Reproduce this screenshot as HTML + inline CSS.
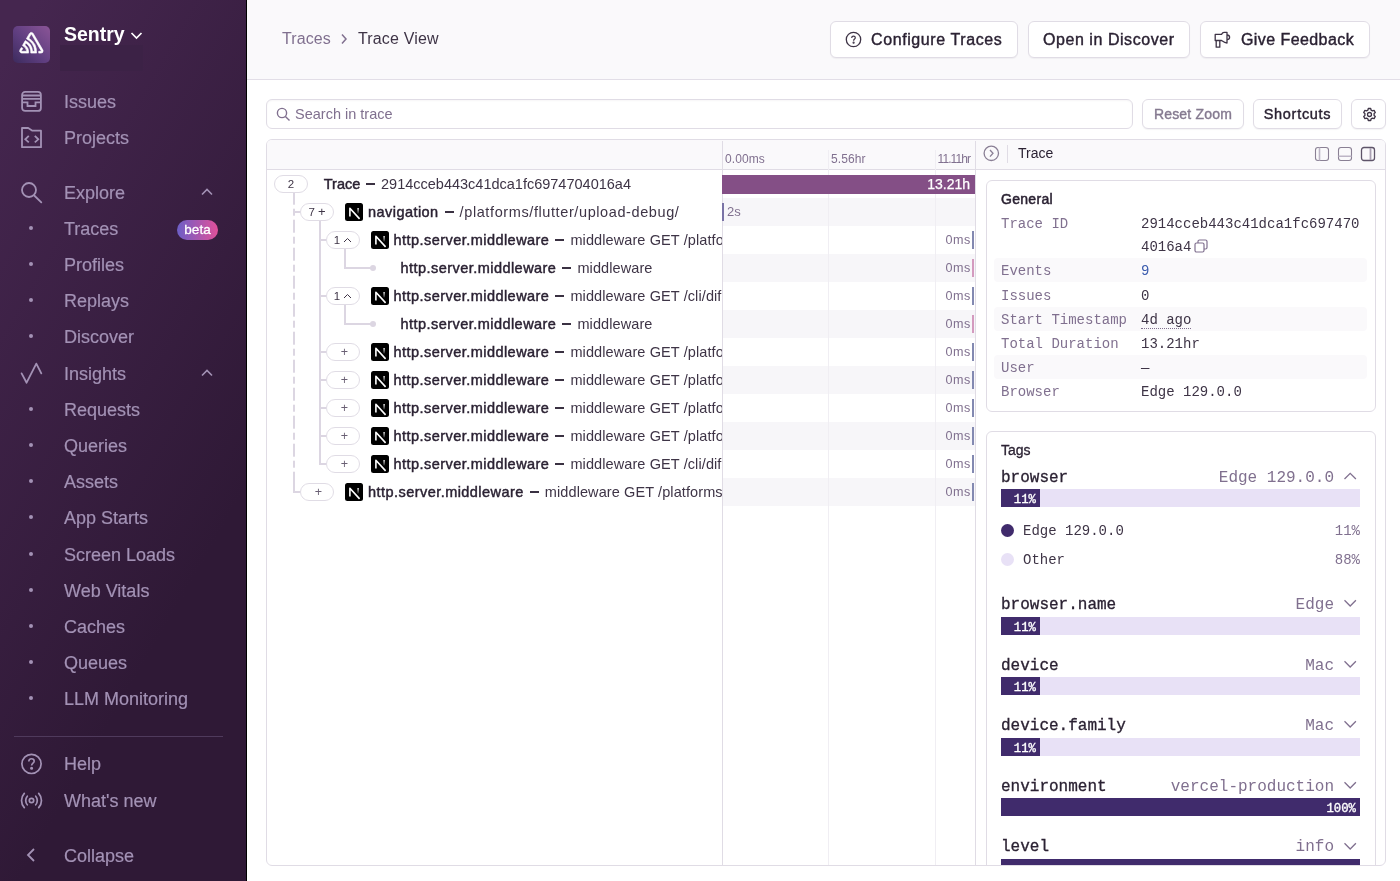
<!DOCTYPE html>
<html><head><meta charset="utf-8"><style>
*{box-sizing:border-box;margin:0;padding:0}
html,body{width:1400px;height:881px;overflow:hidden;background:#fff;}
#root{position:absolute;left:0;top:0;width:1400px;height:881px;will-change:transform;font-family:"Liberation Sans",sans-serif;color:#2b2233}
.a{position:absolute}
.t{position:absolute;white-space:nowrap}
.med{-webkit-text-stroke:0.4px currentColor}
#sb{position:absolute;left:0;top:0;width:247px;height:881px;background:linear-gradient(300deg,#2f1936 30%,#45264f 95%);border-right:1px solid #000}
.logo{position:absolute;left:13px;top:26px;width:37px;height:37px;border-radius:5px;background:linear-gradient(225deg,#8b5597 0%,#5f3e80 55%,#3c2b5d 100%)}
.nav{position:absolute;left:64px;font-size:18px;color:#a392b5;line-height:20px;white-space:nowrap;-webkit-text-stroke:0.2px #a392b5}
.dot{position:absolute;left:29px;width:4px;height:4px;border-radius:2px;background:#a392b5}
#hdr{position:absolute;left:247px;top:0;width:1153px;height:80px;background:#faf9fb;border-bottom:1px solid #e2dee7}
.btn{position:absolute;height:37px;border:1px solid #e0dce5;border-radius:6px;background:#fff;font-size:16px;color:#2b2233;line-height:35px;white-space:nowrap;box-shadow:0 1px 1px rgba(43,34,51,.05)}
.sbtn{position:absolute;top:99px;height:30px;border:1px solid #e0dce5;border-radius:6px;background:#fff;font-size:14px;color:#2b2233;line-height:28px;white-space:nowrap;box-shadow:0 1px 1px rgba(43,34,51,.05)}
#tc{position:absolute;left:266px;top:139px;width:1120px;height:727px;border:1px solid #e0dce5;border-radius:6px;overflow:hidden;background:#fff}
.pill{position:absolute;height:18px;border:1px solid #e0dce5;border-radius:9px;background:#fff;font-size:11.5px;color:#3e3446;text-align:center;line-height:16px;white-space:nowrap}
.tr{position:absolute;font-size:14.5px;color:#3e3446;line-height:18px;white-space:nowrap}
.trb{position:absolute;font-size:14.5px;color:#2b2233;line-height:18px;white-space:nowrap;-webkit-text-stroke:0.45px #2b2233}
.card{position:absolute;border:1px solid #e0dce5;border-radius:6px;background:#fff}
.mono{position:absolute;font-family:"Liberation Mono",monospace;font-size:14px;line-height:18px;color:#3e3446;white-space:nowrap}
.tkey{position:absolute;font-family:"Liberation Mono",monospace;font-size:16px;line-height:20px;color:#2b2233;white-space:nowrap;-webkit-text-stroke:0.3px #2b2233}
.tval{position:absolute;font-family:"Liberation Mono",monospace;font-size:16px;line-height:20px;color:#80708f;white-space:nowrap;text-align:right}
</style></head><body><div id="root">
<svg width="0" height="0" style="position:absolute"><defs><linearGradient id="ng" gradientUnits="userSpaceOnUse" x1="0" y1="5" x2="0" y2="11.5"><stop offset="0" stop-color="#fff"/><stop offset="1" stop-color="#fff" stop-opacity="0"/></linearGradient></defs></svg>
<div id="sb">
<div class="logo"><svg width="37" height="37" viewBox="0 0 37 37"><path transform="translate(6.6 6.4) scale(0.47)" fill="#fff" stroke="#fff" stroke-width="1.3" stroke-linejoin="round" d="M29,2.26a4.67,4.67,0,0,0-8,0L14.42,13.53A32.21,32.21,0,0,1,32.17,40.19H27.55A27.68,27.68,0,0,0,12.09,17.47L6,28a15.92,15.92,0,0,1,9.23,12.17H4.62A.76.76,0,0,1,4,39.06l2.94-5a10.74,10.74,0,0,0-3.36-1.9l-2.91,5a4.54,4.54,0,0,0,1.69,6.24A4.66,4.66,0,0,0,4.62,44H19.15a19.4,19.4,0,0,0-8-17.31l2.31-4A23.87,23.87,0,0,1,23.76,44H36.07a35.88,35.88,0,0,0-16.41-31.8l4.67-8a.77.77,0,0,1,1.05-.27c.53.29,20.29,34.77,20.66,35.17a.76.76,0,0,1-.68,1.13H40.6q.09,1.91,0,3.81h4.78A4.59,4.59,0,0,0,50,39.43a4.49,4.49,0,0,0-.62-2.28Z"/></svg></div>
<div class="t" style="left:64px;top:22px;font-size:19.5px;font-weight:bold;color:#fff;line-height:24px">Sentry</div>
<svg class="a" style="left:130px;top:31px" width="13" height="9" viewBox="0 0 13 9"><path d="M1.5 2L6.5 7L11.5 2" fill="none" stroke="#fff" stroke-width="1.7"/></svg>
<div class="a" style="left:60px;top:45px;width:83px;height:26px;background:#3c2246"></div>
<svg class="a" style="left:20px;top:90px" width="23" height="23" viewBox="0 0 23 23" fill="none" stroke="#a392b5" stroke-width="1.8"><rect x="2.1" y="1.9" width="18.8" height="19" rx="3"/><path d="M2.1 5.5H20.9M2.1 8.8H20.9M2.1 12.3H7.5V16H15.5V12.3H20.9"/></svg>
<div class="nav" style="top:92px">Issues</div>
<svg class="a" style="left:20px;top:126px" width="23" height="23" viewBox="0 0 23 23" fill="none" stroke="#a392b5" stroke-width="1.8"><path d="M2 21.2V2H8.2L12.4 4.7H21V21.2Z" stroke-linejoin="round"/><path d="M8.8 9.9L5.3 13.3L8.8 16.4M14.8 9.9L18.3 13.3L14.8 16.4"/></svg>
<div class="nav" style="top:128px">Projects</div>
<svg class="a" style="left:20px;top:181px" width="23" height="23" viewBox="0 0 23 23" fill="none" stroke="#a392b5" stroke-width="1.8" stroke-linecap="round"><circle cx="9" cy="9" r="7"/><path d="M14.2 14.5L21.3 21.4"/></svg>
<div class="nav" style="top:183px">Explore</div>
<svg class="a" style="left:200px;top:187px" width="14" height="10" viewBox="0 0 14 10" fill="none" stroke="#a392b5" stroke-width="1.6"><path d="M2 7.5L7 2.5L12 7.5"/></svg>
<div class="dot" style="top:226px"></div>
<div class="nav" style="top:219px">Traces</div>
<div class="dot" style="top:262px"></div>
<div class="nav" style="top:255px">Profiles</div>
<div class="dot" style="top:298px"></div>
<div class="nav" style="top:291px">Replays</div>
<div class="dot" style="top:334px"></div>
<div class="nav" style="top:327px">Discover</div>
<div class="t" style="left:177px;top:220px;width:41px;height:20px;border-radius:10px;background:linear-gradient(90deg,#6c5fc7,#e1509a);color:#fff;font-size:13.5px;text-align:center;line-height:20px;-webkit-text-stroke:0.3px #fff">beta</div>
<svg class="a" style="left:20px;top:362px" width="23" height="23" viewBox="0 0 23 23" fill="none" stroke="#a392b5" stroke-width="1.8" stroke-linejoin="round" stroke-linecap="round"><path d="M1.6 11.4L6.6 20.7L16.3 1.6L21.3 11.4"/></svg>
<div class="nav" style="top:364px">Insights</div>
<svg class="a" style="left:200px;top:368px" width="14" height="10" viewBox="0 0 14 10" fill="none" stroke="#a392b5" stroke-width="1.6"><path d="M2 7.5L7 2.5L12 7.5"/></svg>
<div class="dot" style="top:407px"></div>
<div class="nav" style="top:400px">Requests</div>
<div class="dot" style="top:443px"></div>
<div class="nav" style="top:436px">Queries</div>
<div class="dot" style="top:479px"></div>
<div class="nav" style="top:472px">Assets</div>
<div class="dot" style="top:515px"></div>
<div class="nav" style="top:508px">App Starts</div>
<div class="dot" style="top:552px"></div>
<div class="nav" style="top:545px">Screen Loads</div>
<div class="dot" style="top:588px"></div>
<div class="nav" style="top:581px">Web Vitals</div>
<div class="dot" style="top:624px"></div>
<div class="nav" style="top:617px">Caches</div>
<div class="dot" style="top:660px"></div>
<div class="nav" style="top:653px">Queues</div>
<div class="dot" style="top:696px"></div>
<div class="nav" style="top:689px">LLM Monitoring</div>
<div class="a" style="left:14px;top:736px;width:209px;height:1px;background:#4f3a5c"></div>
<svg class="a" style="left:20px;top:752px" width="23" height="23" viewBox="0 0 23 23" fill="none" stroke="#a392b5" stroke-width="1.7"><circle cx="11.5" cy="11.9" r="9.6"/><path d="M8.8 9.5C8.8 7.8 10 6.8 11.5 6.8C13.1 6.8 14.2 7.8 14.2 9.2C14.2 11.1 11.6 11.2 11.6 13.5" stroke-width="1.6"/><circle cx="11.6" cy="16.3" r="0.7" fill="#a392b5"/></svg>
<div class="nav" style="top:754px">Help</div>
<svg class="a" style="left:20px;top:789px" width="23" height="23" viewBox="0 0 23 23" fill="none" stroke="#a392b5" stroke-width="1.7" stroke-linecap="round"><circle cx="11.5" cy="11.5" r="2.2"/><path d="M7.3 7.2C5.2 9.5 5.2 13.5 7.3 15.8M15.7 7.2C17.8 9.5 17.8 13.5 15.7 15.8M4.3 4.3C0.6 8.3 0.6 14.7 4.3 18.7M18.7 4.3C22.4 8.3 22.4 14.7 18.7 18.7"/></svg>
<div class="nav" style="top:791px">What's new</div>
<svg class="a" style="left:24px;top:847px" width="14" height="16" viewBox="0 0 14 16" fill="none" stroke="#a392b5" stroke-width="1.8"><path d="M10 2L4 8L10 14"/></svg>
<div class="nav" style="top:846px">Collapse</div>
</div>
<div id="hdr">
<div class="t" style="left:35px;top:29px;font-size:16px;color:#80708f;line-height:20px;letter-spacing:0.1px">Traces</div>
<svg class="a" style="left:93px;top:33px" width="8" height="12" viewBox="0 0 8 12" fill="none" stroke="#80708f" stroke-width="1.5"><path d="M2 1.5L6 6L2 10.5"/></svg>
<div class="t" style="left:111px;top:29px;font-size:16px;color:#3e3446;line-height:20px;letter-spacing:0.15px">Trace View</div>
</div>
<div class="btn" style="left:830px;top:21px;width:188px"><svg class="a" style="left:14px;top:9px" width="17" height="17" viewBox="0 0 17 17" fill="none" stroke="#3e3446" stroke-width="1.3"><circle cx="8.5" cy="8.5" r="7.2"/><path d="M6.7 6.9C6.7 5.8 7.5 5.1 8.5 5.1C9.6 5.1 10.3 5.8 10.3 6.7C10.3 8 8.6 8.1 8.6 9.7" stroke-width="1.2"/><circle cx="8.6" cy="11.7" r="0.45" fill="#3e3446"/></svg><span class="t med" style="left:40px;top:0;letter-spacing:0.6px">Configure Traces</span></div>
<div class="btn" style="left:1028px;top:21px;width:162px"><span class="t med" style="left:14px;top:0;letter-spacing:0.55px">Open in Discover</span></div>
<div class="btn" style="left:1200px;top:21px;width:170px"><svg class="a" style="left:13px;top:9px" width="19" height="18" viewBox="0 0 19 18" fill="none" stroke="#3e3446" stroke-width="1.3" stroke-linejoin="round"><path d="M1.2 3.4H7.5Q8.6 1.3 10 1.3H13V12Q11.2 12 7.5 9.5H1.2Z"/><path d="M13 4A2.6 2.3 0 0 1 13 8.6"/><path d="M2.2 9.5V16.2H5.8V9.5"/></svg><span class="t med" style="left:40px;top:0;letter-spacing:0.42px">Give Feedback</span></div>
<div class="a" style="left:266px;top:99px;width:867px;height:30px;border:1px solid #e0dce5;border-radius:6px;background:#fff;box-shadow:inset 0 1px 2px rgba(43,34,51,.04)">
<svg class="a" style="left:9px;top:7px" width="15" height="15" viewBox="0 0 15 15" fill="none" stroke="#80708f" stroke-width="1.4"><circle cx="6" cy="6" r="4.6"/><path d="M9.4 9.4L13.5 13.5"/></svg>
<div class="t" style="left:28px;top:6px;font-size:14.5px;color:#80708f;line-height:17px">Search in trace</div>
</div>
<div class="sbtn med" style="left:1142px;width:102px;color:#857a90;text-align:center;letter-spacing:0.2px">Reset Zoom</div>
<div class="sbtn med" style="left:1253px;width:89px;text-align:center;font-size:14.5px;letter-spacing:0.7px">Shortcuts</div>
<div class="sbtn" style="left:1351px;width:35px"><svg class="a" style="left:9.5px;top:6.5px" width="15" height="15" viewBox="0 0 15 15" fill="none" stroke="#3e3446" stroke-width="1.3"><circle cx="7.5" cy="7.5" r="2"/><path d="M6.3 1.5H8.7L9.1 3.1L10.5 3.9L12.1 3.4L13.3 5.5L12.1 6.6V8.4L13.3 9.5L12.1 11.6L10.5 11.1L9.1 11.9L8.7 13.5H6.3L5.9 11.9L4.5 11.1L2.9 11.6L1.7 9.5L2.9 8.4V6.6L1.7 5.5L2.9 3.4L4.5 3.9L5.9 3.1Z" stroke-linejoin="round"/></svg></div>
<div id="tc">
<div class="a" style="left:0;top:0;width:1118px;height:2px;background:#faf9fb"></div>
<div class="a" style="left:0;top:1px;width:1118px;height:725px">
<div class="a" style="left:0;top:0;width:1118px;height:29px;background:#faf9fb;border-bottom:1px solid #e0dce5"></div>
<div class="a" style="left:456px;top:57px;width:252px;height:28px;background:#f7f6f9"></div>
<div class="a" style="left:456px;top:113px;width:252px;height:28px;background:#f7f6f9"></div>
<div class="a" style="left:456px;top:169px;width:252px;height:28px;background:#f7f6f9"></div>
<div class="a" style="left:456px;top:225px;width:252px;height:28px;background:#f7f6f9"></div>
<div class="a" style="left:456px;top:281px;width:252px;height:28px;background:#f7f6f9"></div>
<div class="a" style="left:456px;top:337px;width:252px;height:28px;background:#f7f6f9"></div>
<div class="a" style="left:561px;top:9px;width:1px;height:717px;background:#f0eef3"></div>
<div class="a" style="left:668px;top:9px;width:1px;height:717px;background:#f0eef3"></div>
<div class="a" style="left:455px;top:0;width:1px;height:726px;background:#e0dce5"></div>
<div class="a" style="left:708px;top:0;width:1px;height:726px;background:#e0dce5"></div>
<div class="t" style="left:458px;top:11px;font-size:12px;color:#80708f;line-height:14px;letter-spacing:0.1px">0.00ms</div>
<div class="t" style="left:564px;top:11px;font-size:12px;color:#80708f;line-height:14px;letter-spacing:0.1px">5.56hr</div>
<div class="t" style="left:670.5px;top:11px;font-size:12px;color:#80708f;line-height:14px;letter-spacing:-0.9px">11.11hr</div>
<div class="t" style="left:455px;top:34px;width:253px;height:19px;background:#844f86;color:#fff;font-size:14px;line-height:19px;text-align:right;padding-right:5px;-webkit-text-stroke:0.25px #fff">13.21h</div>
<div class="a" style="left:455px;top:62px;width:2px;height:18px;background:#7a73a6"></div>
<div class="t" style="left:460px;top:63px;font-size:13px;color:#80708f;line-height:16px">2s</div>
<div class="t" style="right:414px;top:91px;font-size:12.6px;color:#80708f;line-height:16px;letter-spacing:0.6px">0ms</div>
<div class="a" style="left:705px;top:90px;width:2px;height:18px;background:#8389b1"></div>
<div class="t" style="right:414px;top:119px;font-size:12.6px;color:#80708f;line-height:16px;letter-spacing:0.6px">0ms</div>
<div class="a" style="left:705px;top:118px;width:2px;height:18px;background:#d49bbf"></div>
<div class="t" style="right:414px;top:147px;font-size:12.6px;color:#80708f;line-height:16px;letter-spacing:0.6px">0ms</div>
<div class="a" style="left:705px;top:146px;width:2px;height:18px;background:#8389b1"></div>
<div class="t" style="right:414px;top:175px;font-size:12.6px;color:#80708f;line-height:16px;letter-spacing:0.6px">0ms</div>
<div class="a" style="left:705px;top:174px;width:2px;height:18px;background:#d49bbf"></div>
<div class="t" style="right:414px;top:203px;font-size:12.6px;color:#80708f;line-height:16px;letter-spacing:0.6px">0ms</div>
<div class="a" style="left:705px;top:202px;width:2px;height:18px;background:#8389b1"></div>
<div class="t" style="right:414px;top:231px;font-size:12.6px;color:#80708f;line-height:16px;letter-spacing:0.6px">0ms</div>
<div class="a" style="left:705px;top:230px;width:2px;height:18px;background:#8389b1"></div>
<div class="t" style="right:414px;top:259px;font-size:12.6px;color:#80708f;line-height:16px;letter-spacing:0.6px">0ms</div>
<div class="a" style="left:705px;top:258px;width:2px;height:18px;background:#8389b1"></div>
<div class="t" style="right:414px;top:287px;font-size:12.6px;color:#80708f;line-height:16px;letter-spacing:0.6px">0ms</div>
<div class="a" style="left:705px;top:286px;width:2px;height:18px;background:#8389b1"></div>
<div class="t" style="right:414px;top:315px;font-size:12.6px;color:#80708f;line-height:16px;letter-spacing:0.6px">0ms</div>
<div class="a" style="left:705px;top:314px;width:2px;height:18px;background:#8389b1"></div>
<div class="t" style="right:414px;top:343px;font-size:12.6px;color:#80708f;line-height:16px;letter-spacing:0.6px">0ms</div>
<div class="a" style="left:705px;top:342px;width:2px;height:18px;background:#8389b1"></div>
<div class="a" style="left:0;top:0;width:455px;height:724px;overflow:hidden">
<div class="a" style="left:26px;top:52px;width:2px;height:299px;background:repeating-linear-gradient(180deg,#dcd6e2 0 13px,transparent 13px 17.5px,#dcd6e2 17.5px 24px,transparent 24px 28px);background-position:0 -1.3px"></div>
<div class="a" style="left:26px;top:342px;width:2px;height:10px;background:#dcd6e2"></div>
<div class="a" style="left:26px;top:350px;width:8px;height:2px;background:#dcd6e2"></div>
<div class="a" style="left:26px;top:70px;width:8px;height:2px;background:#dcd6e2"></div>
<div class="a" style="left:52px;top:80px;width:2px;height:244px;background:#dcd6e2"></div>
<div class="a" style="left:52px;top:98px;width:8px;height:2px;background:#dcd6e2"></div>
<div class="a" style="left:52px;top:154px;width:8px;height:2px;background:#dcd6e2"></div>
<div class="a" style="left:52px;top:210px;width:8px;height:2px;background:#dcd6e2"></div>
<div class="a" style="left:52px;top:238px;width:8px;height:2px;background:#dcd6e2"></div>
<div class="a" style="left:52px;top:266px;width:8px;height:2px;background:#dcd6e2"></div>
<div class="a" style="left:52px;top:294px;width:8px;height:2px;background:#dcd6e2"></div>
<div class="a" style="left:52px;top:322px;width:8px;height:2px;background:#dcd6e2"></div>
<div class="a" style="left:77px;top:108px;width:2px;height:20px;background:#dcd6e2"></div>
<div class="a" style="left:77px;top:126px;width:28px;height:2px;background:#dcd6e2"></div>
<div class="a" style="left:103px;top:124px;width:6px;height:6px;border-radius:3px;background:#dcd6e2"></div>
<div class="a" style="left:77px;top:164px;width:2px;height:20px;background:#dcd6e2"></div>
<div class="a" style="left:77px;top:182px;width:28px;height:2px;background:#dcd6e2"></div>
<div class="a" style="left:103px;top:180px;width:6px;height:6px;border-radius:3px;background:#dcd6e2"></div>
<div class="pill" style="left:7px;top:34px;width:34px">2</div>
<div class="trb" style="left:56.8px;top:33.5px;letter-spacing:0px">Trace</div>
<div class="a" style="left:99.0px;top:42.2px;width:9px;height:1.6px;background:#3a3142"></div>
<div class="tr" style="left:114.0px;top:33.5px;letter-spacing:0px">2914cceb443c41dca1fc6974704016a4</div>
<div class="pill" style="left:33px;top:62px;width:34px">7<span style="margin-left:3px;font-size:13px">+</span></div>
<svg class="a" style="left:77.5px;top:62px" width="18" height="18" viewBox="0 0 18 18"><rect width="18" height="18" rx="2.5" fill="#000"/><path d="M4.9 13.6V5.3L14.6 15.9" fill="none" stroke="#fff" stroke-width="1.6" stroke-linejoin="round"/><path d="M13.1 5V10.5" fill="none" stroke="url(#ng)" stroke-width="1.4"/></svg>
<div class="trb" style="left:101px;top:61.5px;letter-spacing:0.45px">navigation</div>
<div class="a" style="left:177.6px;top:70.2px;width:9px;height:1.6px;background:#3a3142"></div>
<div class="tr" style="left:192.6px;top:61.5px;letter-spacing:0.6px">/platforms/flutter/upload-debug/</div>
<div class="pill" style="left:59px;top:90px;width:34px">1<svg width="9" height="6" viewBox="0 0 9 6" style="margin-left:3px;vertical-align:1px" fill="none" stroke="#3e3446" stroke-width="1"><path d="M1 5L4.5 1.5L8 5"/></svg></div>
<svg class="a" style="left:103.5px;top:90px" width="18" height="18" viewBox="0 0 18 18"><rect width="18" height="18" rx="2.5" fill="#000"/><path d="M4.9 13.6V5.3L14.6 15.9" fill="none" stroke="#fff" stroke-width="1.6" stroke-linejoin="round"/><path d="M13.1 5V10.5" fill="none" stroke="url(#ng)" stroke-width="1.4"/></svg>
<div class="trb" style="left:126.6px;top:89.5px;letter-spacing:0.45px">http.server.middleware</div>
<div class="a" style="left:288.4px;top:98.2px;width:9px;height:1.6px;background:#3a3142"></div>
<div class="tr" style="left:303.4px;top:89.5px;letter-spacing:0.1px">middleware GET /platforms/flutter</div>
<div class="trb" style="left:133.6px;top:117.5px;letter-spacing:0.45px">http.server.middleware</div>
<div class="a" style="left:295.4px;top:126.2px;width:9px;height:1.6px;background:#3a3142"></div>
<div class="tr" style="left:310.4px;top:117.5px;letter-spacing:0.1px">middleware</div>
<div class="pill" style="left:59px;top:146px;width:34px">1<svg width="9" height="6" viewBox="0 0 9 6" style="margin-left:3px;vertical-align:1px" fill="none" stroke="#3e3446" stroke-width="1"><path d="M1 5L4.5 1.5L8 5"/></svg></div>
<svg class="a" style="left:103.5px;top:146px" width="18" height="18" viewBox="0 0 18 18"><rect width="18" height="18" rx="2.5" fill="#000"/><path d="M4.9 13.6V5.3L14.6 15.9" fill="none" stroke="#fff" stroke-width="1.6" stroke-linejoin="round"/><path d="M13.1 5V10.5" fill="none" stroke="url(#ng)" stroke-width="1.4"/></svg>
<div class="trb" style="left:126.6px;top:145.5px;letter-spacing:0.45px">http.server.middleware</div>
<div class="a" style="left:288.4px;top:154.2px;width:9px;height:1.6px;background:#3a3142"></div>
<div class="tr" style="left:303.4px;top:145.5px;letter-spacing:0.1px">middleware GET /cli/difs</div>
<div class="trb" style="left:133.6px;top:173.5px;letter-spacing:0.45px">http.server.middleware</div>
<div class="a" style="left:295.4px;top:182.2px;width:9px;height:1.6px;background:#3a3142"></div>
<div class="tr" style="left:310.4px;top:173.5px;letter-spacing:0.1px">middleware</div>
<div class="pill" style="left:59px;top:202px;width:34px"><span style="font-size:12.5px;color:#6a6074;margin-left:3px">+</span></div>
<svg class="a" style="left:103.5px;top:202px" width="18" height="18" viewBox="0 0 18 18"><rect width="18" height="18" rx="2.5" fill="#000"/><path d="M4.9 13.6V5.3L14.6 15.9" fill="none" stroke="#fff" stroke-width="1.6" stroke-linejoin="round"/><path d="M13.1 5V10.5" fill="none" stroke="url(#ng)" stroke-width="1.4"/></svg>
<div class="trb" style="left:126.6px;top:201.5px;letter-spacing:0.45px">http.server.middleware</div>
<div class="a" style="left:288.4px;top:210.2px;width:9px;height:1.6px;background:#3a3142"></div>
<div class="tr" style="left:303.4px;top:201.5px;letter-spacing:0.1px">middleware GET /platforms/flutter</div>
<div class="pill" style="left:59px;top:230px;width:34px"><span style="font-size:12.5px;color:#6a6074;margin-left:3px">+</span></div>
<svg class="a" style="left:103.5px;top:230px" width="18" height="18" viewBox="0 0 18 18"><rect width="18" height="18" rx="2.5" fill="#000"/><path d="M4.9 13.6V5.3L14.6 15.9" fill="none" stroke="#fff" stroke-width="1.6" stroke-linejoin="round"/><path d="M13.1 5V10.5" fill="none" stroke="url(#ng)" stroke-width="1.4"/></svg>
<div class="trb" style="left:126.6px;top:229.5px;letter-spacing:0.45px">http.server.middleware</div>
<div class="a" style="left:288.4px;top:238.2px;width:9px;height:1.6px;background:#3a3142"></div>
<div class="tr" style="left:303.4px;top:229.5px;letter-spacing:0.1px">middleware GET /platforms/flutter</div>
<div class="pill" style="left:59px;top:258px;width:34px"><span style="font-size:12.5px;color:#6a6074;margin-left:3px">+</span></div>
<svg class="a" style="left:103.5px;top:258px" width="18" height="18" viewBox="0 0 18 18"><rect width="18" height="18" rx="2.5" fill="#000"/><path d="M4.9 13.6V5.3L14.6 15.9" fill="none" stroke="#fff" stroke-width="1.6" stroke-linejoin="round"/><path d="M13.1 5V10.5" fill="none" stroke="url(#ng)" stroke-width="1.4"/></svg>
<div class="trb" style="left:126.6px;top:257.5px;letter-spacing:0.45px">http.server.middleware</div>
<div class="a" style="left:288.4px;top:266.2px;width:9px;height:1.6px;background:#3a3142"></div>
<div class="tr" style="left:303.4px;top:257.5px;letter-spacing:0.1px">middleware GET /platforms/flutter</div>
<div class="pill" style="left:59px;top:286px;width:34px"><span style="font-size:12.5px;color:#6a6074;margin-left:3px">+</span></div>
<svg class="a" style="left:103.5px;top:286px" width="18" height="18" viewBox="0 0 18 18"><rect width="18" height="18" rx="2.5" fill="#000"/><path d="M4.9 13.6V5.3L14.6 15.9" fill="none" stroke="#fff" stroke-width="1.6" stroke-linejoin="round"/><path d="M13.1 5V10.5" fill="none" stroke="url(#ng)" stroke-width="1.4"/></svg>
<div class="trb" style="left:126.6px;top:285.5px;letter-spacing:0.45px">http.server.middleware</div>
<div class="a" style="left:288.4px;top:294.2px;width:9px;height:1.6px;background:#3a3142"></div>
<div class="tr" style="left:303.4px;top:285.5px;letter-spacing:0.1px">middleware GET /platforms/flutter</div>
<div class="pill" style="left:59px;top:314px;width:34px"><span style="font-size:12.5px;color:#6a6074;margin-left:3px">+</span></div>
<svg class="a" style="left:103.5px;top:314px" width="18" height="18" viewBox="0 0 18 18"><rect width="18" height="18" rx="2.5" fill="#000"/><path d="M4.9 13.6V5.3L14.6 15.9" fill="none" stroke="#fff" stroke-width="1.6" stroke-linejoin="round"/><path d="M13.1 5V10.5" fill="none" stroke="url(#ng)" stroke-width="1.4"/></svg>
<div class="trb" style="left:126.6px;top:313.5px;letter-spacing:0.45px">http.server.middleware</div>
<div class="a" style="left:288.4px;top:322.2px;width:9px;height:1.6px;background:#3a3142"></div>
<div class="tr" style="left:303.4px;top:313.5px;letter-spacing:0.1px">middleware GET /cli/difs</div>
<div class="pill" style="left:33px;top:342px;width:34px"><span style="font-size:12.5px;color:#6a6074;margin-left:3px">+</span></div>
<svg class="a" style="left:77.5px;top:342px" width="18" height="18" viewBox="0 0 18 18"><rect width="18" height="18" rx="2.5" fill="#000"/><path d="M4.9 13.6V5.3L14.6 15.9" fill="none" stroke="#fff" stroke-width="1.6" stroke-linejoin="round"/><path d="M13.1 5V10.5" fill="none" stroke="url(#ng)" stroke-width="1.4"/></svg>
<div class="trb" style="left:101px;top:341.5px;letter-spacing:0.45px">http.server.middleware</div>
<div class="a" style="left:262.8px;top:350.2px;width:9px;height:1.6px;background:#3a3142"></div>
<div class="tr" style="left:277.8px;top:341.5px;letter-spacing:0.1px">middleware GET /platforms/flutter</div>
</div>
<div class="a" style="left:709px;top:0;width:409px;height:724px;overflow:hidden">
<div class="a" style="left:0;top:0;width:409px;height:29px;background:#faf9fb;border-bottom:1px solid #e0dce5"></div>
<svg class="a" style="left:7px;top:4px" width="17" height="17" viewBox="0 0 17 17" fill="none" stroke="#8a7f95" stroke-width="1.3"><circle cx="8.3" cy="8.3" r="7.2"/><path d="M7 5L10 8.3L7 11.6"/></svg>
<div class="a" style="left:31px;top:4px;width:1px;height:18px;background:#e0dce5"></div>
<div class="t" style="left:42px;top:3px;font-size:14px;color:#2b2233;line-height:18px">Trace</div>
<svg class="a" style="left:338px;top:5px" width="16" height="16" viewBox="0 0 16 16" fill="none" stroke="#8a8094" stroke-width="1.1"><rect x="1.5" y="1.5" width="13" height="13" rx="2.5"/><path d="M5.5 1.5V14.5" stroke="#bdb5c6" stroke-width="1.6"/></svg>
<svg class="a" style="left:361px;top:5px" width="16" height="16" viewBox="0 0 16 16" fill="none" stroke="#8a8094" stroke-width="1.1"><rect x="1.5" y="1.5" width="13" height="13" rx="2.5"/><path d="M1.5 10.2H14.5" stroke="#bdb5c6" stroke-width="1.6"/></svg>
<svg class="a" style="left:384px;top:5px" width="16" height="16" viewBox="0 0 16 16" fill="none" stroke="#5e5469" stroke-width="1.3"><rect x="1.5" y="1.5" width="13" height="13" rx="2.5"/><path d="M10.5 2V14" stroke="#aaa1b3" stroke-width="1.8"/></svg>
<div class="card" style="left:10px;top:39px;width:390px;height:232px">
<div class="t" style="left:14px;top:9px;font-size:14px;color:#2b2233;line-height:18px;letter-spacing:0.3px;-webkit-text-stroke:0.5px #2b2233">General</div>
<div class="mono" style="left:14px;top:34.0px;color:#80708f">Trace ID</div>
<div class="a" style="left:7px;top:77px;width:373px;height:24px;border-radius:4px;background:#faf9fb"></div>
<div class="mono" style="left:14px;top:80.5px;color:#80708f">Events</div>
<div class="mono" style="left:154px;top:80.5px;color:#3b5cae">9</div>
<div class="mono" style="left:14px;top:105.5px;color:#80708f">Issues</div>
<div class="mono" style="left:154px;top:105.5px;">0</div>
<div class="a" style="left:7px;top:126px;width:373px;height:24px;border-radius:4px;background:#faf9fb"></div>
<div class="mono" style="left:14px;top:129.5px;color:#80708f">Start Timestamp</div>
<div class="mono" style="left:154px;top:129.5px;"><span style="border-bottom:1px dotted #80708f">4d ago</span></div>
<div class="mono" style="left:14px;top:153.5px;color:#80708f">Total Duration</div>
<div class="mono" style="left:154px;top:153.5px;">13.21hr</div>
<div class="a" style="left:7px;top:174px;width:373px;height:24px;border-radius:4px;background:#faf9fb"></div>
<div class="mono" style="left:14px;top:177.5px;color:#80708f">User</div>
<div class="mono" style="left:154px;top:177.5px;">—</div>
<div class="mono" style="left:14px;top:201.5px;color:#80708f">Browser</div>
<div class="mono" style="left:154px;top:201.5px;">Edge 129.0.0</div>
<div class="mono" style="left:154px;top:34.0px">2914cceb443c41dca1fc697470</div>
<div class="mono" style="left:154px;top:56.5px">4016a4</div>
<svg class="a" style="left:206px;top:57px" width="16" height="16" viewBox="0 0 16 16" fill="none" stroke="#80708f" stroke-width="1.2"><rect x="2" y="5" width="9" height="9" rx="1.5"/><path d="M5 5V3.5C5 2.7 5.7 2 6.5 2H12.5C13.3 2 14 2.7 14 3.5V9.5C14 10.3 13.3 11 12.5 11H11"/></svg>
</div>
<div class="card" style="left:10px;top:290px;width:390px;height:600px">
<div class="t" style="left:14px;top:9px;font-size:14px;color:#2b2233;line-height:18px;-webkit-text-stroke:0.3px #2b2233">Tags</div>
<div class="tkey" style="left:14px;top:35.7px">browser</div>
<div class="tval" style="right:41px;top:35.7px">Edge 129.0.0</div>
<svg class="a" style="left:357px;top:40.0px" width="13" height="9" viewBox="0 0 13 9" fill="none" stroke="#80708f" stroke-width="1.3"><path d="M0.5 7L6.2 1.3L11.9 7"/></svg>
<div class="a" style="left:14px;top:57px;width:359px;height:18px;background:#e8e1f6"></div>
<div class="t" style="left:14px;top:57px;width:39px;height:18px;background:#402b6c;color:#fff;font-family:Liberation Mono,monospace;font-size:12.3px;line-height:22px;text-align:right;padding-right:4px;-webkit-text-stroke:0.35px #fff">11%</div>
<div class="tkey" style="left:14px;top:162.9px">browser.name</div>
<div class="tval" style="right:41px;top:162.9px">Edge</div>
<svg class="a" style="left:357px;top:167.2px" width="13" height="9" viewBox="0 0 13 9" fill="none" stroke="#80708f" stroke-width="1.3"><path d="M0.5 1.3L6.2 7L11.9 1.3"/></svg>
<div class="a" style="left:14px;top:184.6px;width:359px;height:18px;background:#e8e1f6"></div>
<div class="t" style="left:14px;top:184.6px;width:39px;height:18px;background:#402b6c;color:#fff;font-family:Liberation Mono,monospace;font-size:12.3px;line-height:22px;text-align:right;padding-right:4px;-webkit-text-stroke:0.35px #fff">11%</div>
<div class="tkey" style="left:14px;top:223.5px">device</div>
<div class="tval" style="right:41px;top:223.5px">Mac</div>
<svg class="a" style="left:357px;top:227.8px" width="13" height="9" viewBox="0 0 13 9" fill="none" stroke="#80708f" stroke-width="1.3"><path d="M0.5 1.3L6.2 7L11.9 1.3"/></svg>
<div class="a" style="left:14px;top:245px;width:359px;height:18px;background:#e8e1f6"></div>
<div class="t" style="left:14px;top:245px;width:39px;height:18px;background:#402b6c;color:#fff;font-family:Liberation Mono,monospace;font-size:12.3px;line-height:22px;text-align:right;padding-right:4px;-webkit-text-stroke:0.35px #fff">11%</div>
<div class="tkey" style="left:14px;top:284.0px">device.family</div>
<div class="tval" style="right:41px;top:284.0px">Mac</div>
<svg class="a" style="left:357px;top:288.3px" width="13" height="9" viewBox="0 0 13 9" fill="none" stroke="#80708f" stroke-width="1.3"><path d="M0.5 1.3L6.2 7L11.9 1.3"/></svg>
<div class="a" style="left:14px;top:305.7px;width:359px;height:18px;background:#e8e1f6"></div>
<div class="t" style="left:14px;top:305.7px;width:39px;height:18px;background:#402b6c;color:#fff;font-family:Liberation Mono,monospace;font-size:12.3px;line-height:22px;text-align:right;padding-right:4px;-webkit-text-stroke:0.35px #fff">11%</div>
<div class="tkey" style="left:14px;top:344.8px">environment</div>
<div class="tval" style="right:41px;top:344.8px">vercel-production</div>
<svg class="a" style="left:357px;top:349.1px" width="13" height="9" viewBox="0 0 13 9" fill="none" stroke="#80708f" stroke-width="1.3"><path d="M0.5 1.3L6.2 7L11.9 1.3"/></svg>
<div class="a" style="left:14px;top:366.4px;width:359px;height:18px;background:#e8e1f6"></div>
<div class="t" style="left:14px;top:366.4px;width:359px;height:18px;background:#402b6c;color:#fff;font-family:Liberation Mono,monospace;font-size:12.3px;line-height:22px;text-align:right;padding-right:4px;-webkit-text-stroke:0.35px #fff">100%</div>
<div class="tkey" style="left:14px;top:405.3px">level</div>
<div class="tval" style="right:41px;top:405.3px">info</div>
<svg class="a" style="left:357px;top:409.6px" width="13" height="9" viewBox="0 0 13 9" fill="none" stroke="#80708f" stroke-width="1.3"><path d="M0.5 1.3L6.2 7L11.9 1.3"/></svg>
<div class="a" style="left:14px;top:427px;width:359px;height:18px;background:#e8e1f6"></div>
<div class="t" style="left:14px;top:427px;width:359px;height:18px;background:#402b6c;color:#fff;font-family:Liberation Mono,monospace;font-size:12.3px;line-height:22px;text-align:right;padding-right:4px;-webkit-text-stroke:0.35px #fff"></div>
<div class="a" style="left:14px;top:92px;width:13px;height:13px;border-radius:7px;background:#402b6c"></div>
<div class="mono" style="left:36px;top:89.5px;color:#3e3446">Edge 129.0.0</div>
<div class="mono" style="right:15px;top:89.5px;color:#80708f">11%</div>
<div class="a" style="left:14px;top:121px;width:13px;height:13px;border-radius:7px;background:#e8e1f6"></div>
<div class="mono" style="left:36px;top:118.5px;color:#3e3446">Other</div>
<div class="mono" style="right:15px;top:118.5px;color:#80708f">88%</div>
</div>
</div>
</div>
</div>
</div></body></html>
